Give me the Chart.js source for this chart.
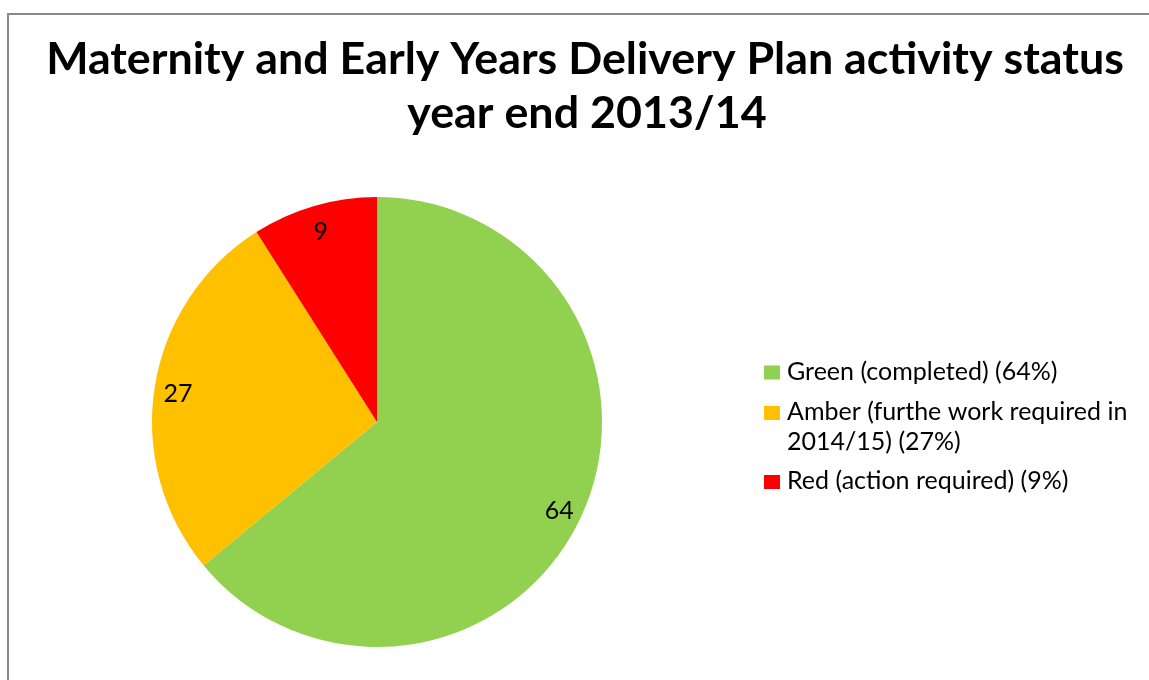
<!DOCTYPE html>
<html>
<head>
<meta charset="utf-8">
<script src="https://cdn.jsdelivr.net/npm/chart.js@4/dist/chart.umd.min.js"></script>
<style>
  html, body { margin: 0; padding: 0; background: #fff; }
  #wrap { position: relative; width: 1149px; height: 680px; }
</style>
</head>
<body>
<div id="wrap"><canvas id="c" width="1149" height="680"></canvas></div>
<script>
// Activity status counts for the delivery plan
const categories = ['Green (completed)', 'Amber (furthe work required in 2014/15)', 'Red (action required)'];
const legendLines = [
  ['Green (completed) (64%)'],
  ['Amber (furthe work required in', '2014/15) (27%)'],
  ['Red (action required) (9%)']
];
const values = [64, 27, 9];
const colors = ['#92D050', '#FFC000', '#FF0000'];
const titleLines = ['Maternity and Early Years Delivery Plan activity status', 'year end 2013/14'];

const FONT = 'Lato, "Open Sans", sans-serif';

// Outer frame, title, slice values and legend
const decor = {
  id: 'decor',
  beforeDraw(chart) {
    const ctx = chart.ctx;
    ctx.save();
    ctx.fillStyle = '#ffffff';
    ctx.fillRect(0, 0, chart.width, chart.height);
    ctx.strokeStyle = '#8a8a8a';
    ctx.lineWidth = 2;
    ctx.strokeRect(8, 14, 1200, 720);
    ctx.restore();
  },
  afterDraw(chart) {
    const ctx = chart.ctx;
    ctx.save();
    // title
    ctx.fillStyle = '#000';
    ctx.font = 'bold 44.8px ' + FONT;
    ctx.textAlign = 'center';
    ctx.textBaseline = 'alphabetic';
    ctx.fillText(titleLines[0], 585, 74);
    ctx.fillText(titleLines[1], 587, 128);

    // slice values, placed near the outer edge of each slice
    const meta = chart.getDatasetMeta(0);
    ctx.font = '25px ' + FONT;
    ctx.textBaseline = 'middle';
    meta.data.forEach((arc, i) => {
      const p = arc.getProps(['x', 'y', 'startAngle', 'endAngle', 'outerRadius'], true);
      const mid = (p.startAngle + p.endAngle) / 2;
      const r = p.outerRadius * 0.895;
      ctx.fillText(String(values[i]), p.x + Math.cos(mid) * r, p.y + Math.sin(mid) * r + 3);
    });

    // legend
    const baselines = [[379.5], [420, 450], [489]];
    ctx.textAlign = 'left';
    ctx.textBaseline = 'alphabetic';
    legendLines.forEach((lines, i) => {
      ctx.fillStyle = colors[i];
      ctx.fillRect(764, baselines[i][0] - 14, 16, 14);
      ctx.fillStyle = '#000';
      lines.forEach((t, j) => ctx.fillText(t, 787, baselines[i][j]));
    });
    ctx.restore();
  }
};

new Chart(document.getElementById('c'), {
  type: 'pie',
  data: {
    labels: categories,
    datasets: [{
      data: values,
      backgroundColor: colors,
      borderWidth: 0,
      hoverOffset: 0
    }]
  },
  options: {
    responsive: false,
    animation: false,
    rotation: 0,
    layout: { padding: { left: 152, right: 547, top: 197, bottom: 33 } },
    plugins: {
      legend: { display: false },
      title: { display: false },
      tooltip: { enabled: false }
    }
  },
  plugins: [decor]
});
</script>
</body>
</html>
